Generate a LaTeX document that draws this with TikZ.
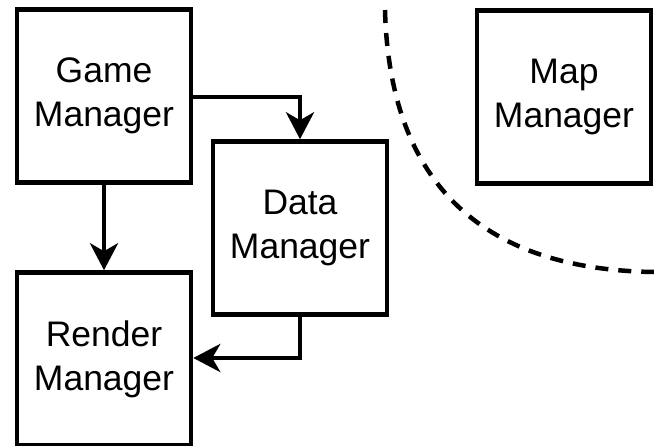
\documentclass[tikz,border=0pt]{standalone}
\usepackage{fontspec}
\setmainfont{Liberation Sans}
\usepackage{tikz}
\usetikzlibrary{arrows.meta, positioning}

\begin{document}
\begin{tikzpicture}[
    x=1pt, y=-1pt,
    manager/.style={draw, line width=4.5pt, minimum width=174pt, minimum height=173pt, align=center, font=\fontsize{35.5}{44}\selectfont},
    link/.style={line width=4.5pt, -{Stealth[length=27pt, width=28pt, inset=8pt]}},
]
\useasboundingbox (0,0) rectangle (654,446);

\node[manager] (game-mgr) at (104,96) {Game\\Manager};
\node[manager] (data-mgr) at (300,228) {Data\\Manager};
\node[manager] (render-mgr) at (104,359) {Render\\Manager};
\node[manager] (map-mgr) at (564,97) {Map\\Manager};

\draw[link] (game-mgr.east |- 0,97) -| (data-mgr.north);
\draw[link] (game-mgr.south) -- (render-mgr.north);
\draw[link] (data-mgr.south) |- (render-mgr.east |- 0,358);

% boundary between the two groups
\coordinate (cut-top) at (385,10);
\coordinate (cut-end) at (654,272);
\draw[line width=4.5pt, dash pattern=on 13pt off 10pt] (cut-top) .. controls (390,200) and (500,270) .. (cut-end);
\end{tikzpicture}
\end{document}
